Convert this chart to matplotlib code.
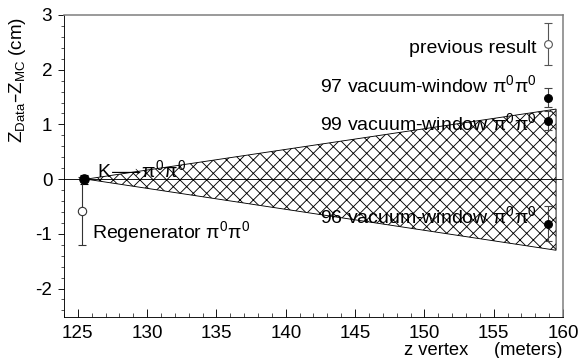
import matplotlib
matplotlib.use('Agg')
import matplotlib.pyplot as plt
from matplotlib.ticker import MultipleLocator

plt.rcParams['font.family'] = ['Liberation Sans', 'DejaVu Sans']
plt.rcParams['mathtext.default'] = 'regular'
plt.rcParams['axes.unicode_minus'] = False
plt.rcParams['hatch.linewidth'] = 0.8

# 測定点 (z vertex [m], Z_Data - Z_MC [cm], 誤差)
k_x, k_y, k_err = 125.46, 0.0, 0.08
regen_x, regen_y, regen_err = 125.3, -0.58, 0.62
prev_x, prev_y, prev_err = 158.9, 2.47, 0.38
vw_x = [158.9, 158.9, 158.9]
vw_y = [1.49, 1.07, -0.82]
vw_err = [0.17, 0.18, 0.32]

# 系統誤差の帯
band_x = [125.6, 159.5, 159.5]
band_y = [0.0, 1.28, -1.30]

# ラベル
lab_k = r'K$\!\longrightarrow\!\pi^0\pi^0$'
lab_regen = r'Regenerator $\pi^0\pi^0$'
lab_prev = 'previous result'
lab_vw = [r'97 vacuum-window $\pi^0\pi^0$',
          r'99 vacuum-window $\pi^0\pi^0$',
          r'96 vacuum-window $\pi^0\pi^0$']
lab_vw_y = [1.59, 0.90, -0.80]

fig = plt.figure(figsize=(582/80, 358/80), dpi=80)
ax = fig.add_axes([64/582, 1-317/358, 499/582, 302/358])

ax.fill(band_x, band_y, facecolor='none', edgecolor='black', hatch='xx', lw=0.8)
ax.axhline(0, color='black', lw=0.8)

ax.errorbar(k_x, k_y, yerr=k_err, fmt='o', color='black', ms=8.5, capsize=4, lw=1)
ax.errorbar(regen_x, regen_y, yerr=regen_err, fmt='o', mfc='white', mec='#333333',
            ecolor='#333333', ms=7.5, capsize=4, lw=1)
ax.errorbar(prev_x, prev_y, yerr=prev_err, fmt='o', mfc='white', mec='#555555',
            ecolor='#555555', ms=7, capsize=4, lw=1)
ax.errorbar(vw_x, vw_y, yerr=vw_err, fmt='o', color='black', ecolor='#444444',
            ms=7, capsize=4, lw=1)

fs = 17.5
ax.text(126.36, 0.03, lab_k, fontsize=fs, va='baseline')
ax.text(126.0, -1.08, lab_regen, fontsize=fs, va='baseline')
ax.text(158.1, 2.31, lab_prev, fontsize=fs, ha='right', va='baseline')
for lab, ly in zip(lab_vw, lab_vw_y):
    ax.text(158.1, ly, lab, fontsize=fs, ha='right', va='baseline')

ax.set_xlim(124, 160)
ax.set_ylim(-2.52, 3)
ax.xaxis.set_major_locator(MultipleLocator(5))
ax.xaxis.set_minor_locator(MultipleLocator(1))
ax.yaxis.set_major_locator(MultipleLocator(1))
ax.yaxis.set_minor_locator(MultipleLocator(0.2))
ax.tick_params(axis='x', which='both', direction='in', labelsize=17, pad=7)
ax.tick_params(axis='x', which='major', length=7)
ax.tick_params(axis='x', which='minor', length=3.5)
ax.tick_params(axis='y', which='both', direction='out', labelsize=17, pad=5)
ax.tick_params(axis='y', which='major', length=5.5)
ax.tick_params(axis='y', which='minor', length=3)
ax.spines['top'].set_color('#808080')
ax.spines['right'].set_color('#808080')
ax.spines['top'].set_linewidth(1.4)
ax.spines['right'].set_linewidth(1.4)

ax.text(-0.094, 0.995, r'$Z_{Data}$–$Z_{MC}$ (cm)', transform=ax.transAxes,
        rotation=90, ha='center', va='top', fontsize=17)
fig.text(563/582, 1-355/358, 'z vertex     (meters)', ha='right', va='baseline', fontsize=16.5)

fig.savefig('out.png', dpi=80)
